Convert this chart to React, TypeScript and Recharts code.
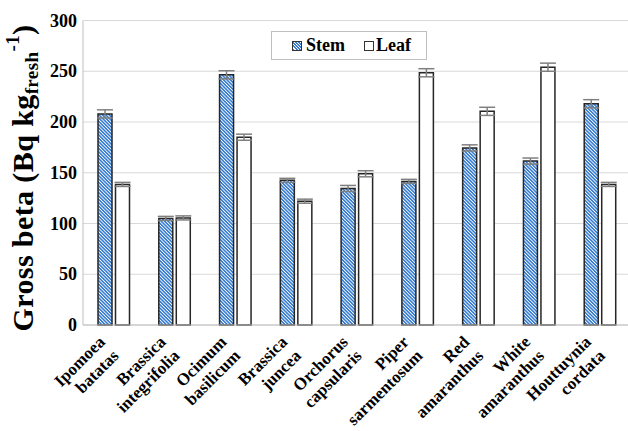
import React from "react";
import { BarChart, Bar, XAxis, YAxis, CartesianGrid, ErrorBar, Legend } from "recharts";

const categories = [
  "Ipomoea batatas",
  "Brassica integrifolia",
  "Ocimum basilicum",
  "Brassica juncea",
  "Orchorus capsularis",
  "Piper sarmentosum",
  "Red amaranthus",
  "White amaranthus",
  "Houttuynia cordata",
];
const stemValues = [208, 105, 246.5, 142.5, 134.5, 141.5, 174.5, 161.5, 218];
const leafValues = [138.5, 105.5, 185, 122, 149, 248.5, 210.5, 254, 138.5];
const stemErrors = [4, 2, 4, 2, 3, 2, 3, 3, 4];
const leafErrors = [2, 2, 3, 2, 3, 4, 4, 4, 2];
const yTicks = [0, 50, 100, 150, 200, 250, 300];

const data = categories.map((name, i) => ({
  name,
  stem: stemValues[i],
  leaf: leafValues[i],
  stemErr: stemErrors[i],
  leafErr: leafErrors[i],
}));

const FONT = '"Liberation Serif", "Times New Roman", serif';
const BLUE = "#3a7fd2";

const XTick = (props: any) => {
  const { x, y, payload } = props;
  const parts = String(payload.value).split(" ");
  return (
    <g transform={`translate(${x - 7.5},${y + 18}) rotate(-45)`}>
      <text textAnchor="end" fontFamily={FONT} fontWeight="bold" fontSize={17} fill="#000">
        <tspan x={0} y={0}>{parts[0]}</tspan>
        <tspan x={0} y={19.5}>{parts[1]}</tspan>
      </text>
    </g>
  );
};

const YTick = (props: any) => {
  const { x, y, payload } = props;
  return (
    <text x={x} y={y} dy={6} textAnchor="end" fontFamily={FONT} fontWeight="bold" fontSize={18} fill="#000">
      {payload.value}
    </text>
  );
};

const YLabel = () => (
  <text
    transform="translate(33,178) rotate(-90)"
    textAnchor="middle"
    fontFamily={FONT}
    fontWeight="bold"
    fontSize={30}
    letterSpacing={0.4}
    fill="#000"
  >
    Gross beta (Bq kg
    <tspan fontSize={19} dy={5}>fresh</tspan>
    <tspan fontSize={19} dy={-19}>-1</tspan>
    <tspan dy={14}>)</tspan>
  </text>
);

const LegendContent = () => (
  <div
    style={{
      width: 156,
      height: 29,
      boxSizing: "border-box",
      border: "1px solid #bfbfbf",
      background: "#fff",
      display: "flex",
      alignItems: "center",
      fontFamily: FONT,
      fontWeight: "bold",
      fontSize: 18,
      color: "#000",
    }}
  >
    <span
      style={{
        display: "inline-block",
        width: 8,
        height: 8,
        marginLeft: 20,
        border: "1px solid #333",
        background: `repeating-linear-gradient(45deg, ${BLUE} 0px, ${BLUE} 1.4px, #fff 1.4px, #fff 2.2px)`,
      }}
    />
    <span style={{ marginLeft: 4 }}>Stem</span>
    <span
      style={{
        display: "inline-block",
        width: 8,
        height: 8,
        marginLeft: 19,
        border: "1px solid #333",
        background: "#fff",
      }}
    />
    <span style={{ marginLeft: 2 }}>Leaf</span>
  </div>
);

export default function App() {
  return (
    <div style={{ position: "absolute", left: 0, top: 0, width: 628, height: 431, overflow: "hidden", background: "#fff" }}>
      <BarChart
        width={631}
        height={431}
        data={data}
        margin={{ top: 20.5, right: 1, left: 0, bottom: 0 }}
        barSize={14}
        barGap={3.5}
      >
        <defs>
          <pattern id="hatch" patternUnits="userSpaceOnUse" width="2.4" height="2.4" patternTransform="rotate(-45)">
            <rect width="2.4" height="2.4" fill="#fff" />
            <rect width="1.6" height="2.4" fill={BLUE} />
          </pattern>
        </defs>
        <CartesianGrid vertical={false} stroke="#d9d9d9" strokeWidth={1} />
        <XAxis
          dataKey="name"
          interval={0}
          height={106}
          tickLine={false}
          tickSize={0}
          tickMargin={0}
          axisLine={{ stroke: "#bfbfbf" }}
          tick={<XTick />}
        />
        <YAxis
          width={83}
          domain={[0, 300]}
          ticks={yTicks}
          tickLine={false}
          tickSize={0}
          tickMargin={6}
          axisLine={{ stroke: "#bfbfbf" }}
          tick={<YTick />}
          label={<YLabel />}
        />
        <Legend
          layout="horizontal"
          verticalAlign="middle"
          align="center"
          wrapperStyle={{ position: "absolute", left: 271, top: 31, width: 156, height: 29 }}
          content={<LegendContent />}
        />
        <Bar dataKey="stem" fill="url(#hatch)" stroke="#262626" strokeWidth={1.5} isAnimationActive={false}>
          <ErrorBar dataKey="stemErr" width={8} stroke="#7f7f7f" strokeWidth={1.5} />
        </Bar>
        <Bar dataKey="leaf" fill="#fff" stroke="#262626" strokeWidth={1.5} isAnimationActive={false}>
          <ErrorBar dataKey="leafErr" width={8} stroke="#7f7f7f" strokeWidth={1.5} />
        </Bar>
      </BarChart>
    </div>
  );
}
